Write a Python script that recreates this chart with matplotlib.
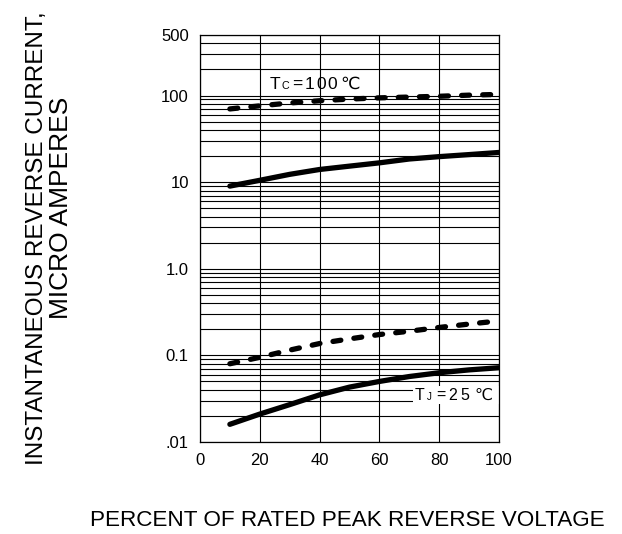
import matplotlib
matplotlib.use("Agg")
import matplotlib.pyplot as plt
from matplotlib.patches import Rectangle
from matplotlib.ticker import FixedLocator, LogLocator, NullFormatter

# percent of rated peak reverse voltage
pct = [10, 20, 30, 40, 50, 60, 70, 80, 90, 100]

# reverse current, micro amperes
tc100_dash = [70, 76, 82, 87, 91, 94, 96, 98, 101, 103]
tc100_solid = [9.0, 10.5, 12.3, 14.0, 15.3, 16.7, 18.5, 19.7, 20.8, 22.0]
tj25_dash = [0.080, 0.095, 0.115, 0.137, 0.155, 0.174, 0.19, 0.21, 0.23, 0.25]
tj25_solid = [0.016, 0.021, 0.027, 0.035, 0.043, 0.050, 0.057, 0.063, 0.068, 0.072]

yticks = [0.01, 0.1, 1, 10, 100, 500]
ytick_labels = [".01", "0.1", "1.0", "10", "100", "500"]
xticks = [0, 20, 40, 60, 80, 100]

fam = ["Liberation Sans", "DejaVu Sans"]
plt.rcParams["font.family"] = fam

fig = plt.figure(figsize=(6.22, 5.34), dpi=100)
ax = fig.add_axes([0.3215, 0.1723, 0.4807, 0.7622])

ax.set_yscale("log")
ax.set_xlim(0, 100)
ax.set_ylim(0.01, 500)

ax.yaxis.set_major_locator(FixedLocator(yticks))
ax.set_yticklabels(ytick_labels)
ax.yaxis.set_minor_locator(LogLocator(base=10, subs=range(2, 10)))
ax.yaxis.set_minor_formatter(NullFormatter())
ax.set_xticks(xticks)
ax.tick_params(which="both", length=0, labelsize=12, pad=8, colors="black")

ax.set_axisbelow(True)
ax.grid(True, which="major", color="black", linewidth=0.8)
ax.grid(True, which="minor", axis="y", color="black", linewidth=0.8)
for sp in ax.spines.values():
    sp.set_linewidth(0.9)

lw = 3.8
dash = (0, (1.5, 2.5))
ax.plot(pct, tc100_dash, color="black", lw=lw, ls=dash, dash_capstyle="round", zorder=3)
ax.plot(pct, tc100_solid, color="black", lw=lw, solid_capstyle="round", zorder=3)
ax.plot(pct, tj25_dash, color="black", lw=lw, ls=dash, dash_capstyle="round", zorder=3)
ax.plot(pct, tj25_solid, color="black", lw=lw, solid_capstyle="round", zorder=3)

# white patch behind the TJ label
ax.add_patch(Rectangle((71.3, 0.0275), 28.7, 0.0443 - 0.0275,
                       facecolor="white", edgecolor="none", zorder=2))


def label(x, y, pieces, big):
    # pieces: (text, offset in px, small?)
    for text, dx, small in pieces:
        ax.annotate(text, xy=(x, y), xytext=(dx * 0.72, 0), textcoords="offset points",
                    fontsize=big * 0.62 if small else big, va="baseline", ha="left",
                    zorder=4, family=fam)


label(23.4, 120, [("T", 0, False), ("C", 12, True), ("=", 22, False), ("1", 35, False),
                  ("0", 46, False), ("0", 57, False), ("\u2103", 70, False)], 12.5)
label(71.9, 0.0305, [("T", 0, False), ("J", 12, True), ("=", 21, False),
                     ("2", 33, False), ("5", 45, False), ("\u2103", 60, False)], 11.5)

fig.text(0.059, 0.554, "INSTANTANEOUS REVERSE CURRENT,", rotation=90,
         ha="center", va="center", fontsize=17.5)
fig.text(0.0975, 0.6105, "MICRO AMPERES", rotation=90,
         ha="center", va="center", fontsize=19)
fig.text(0.558, 0.026, "PERCENT OF RATED PEAK REVERSE VOLTAGE",
         ha="center", va="center", fontsize=16.2)

fig.savefig("out.png", dpi=100)
